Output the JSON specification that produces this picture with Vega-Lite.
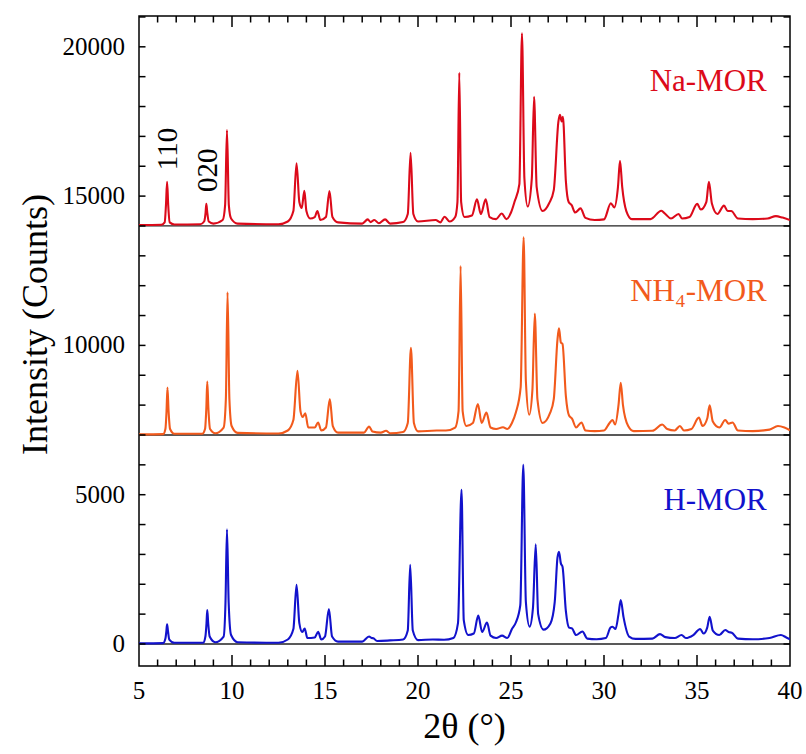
{
  "$schema": "https://vega.github.io/schema/vega-lite/v6.json",
  "width": 651,
  "height": 650,
  "autosize": "none",
  "padding": {"left": 139, "top": 16, "right": 16, "bottom": 88},
  "config": {
    "view": {"stroke": "black", "strokeWidth": 1.5},
    "font": "Liberation Serif"
  },
  "datasets": {
    "xrd": [
      {"sample":"Na","angle":5.0,"counts":14030},{"sample":"Na","angle":6.2,"counts":14040},{"sample":"Na","angle":6.38,"counts":14120},{"sample":"Na","angle":6.45,"counts":14700},{"sample":"Na","angle":6.51,"counts":15480},{"sample":"Na","angle":6.57,"counts":14700},{"sample":"Na","angle":6.65,"counts":14120},{"sample":"Na","angle":6.9,"counts":14050},{"sample":"Na","angle":8.3,"counts":14060},{"sample":"Na","angle":8.5,"counts":14150},{"sample":"Na","angle":8.58,"counts":14450},{"sample":"Na","angle":8.62,"counts":14740},{"sample":"Na","angle":8.67,"counts":14450},{"sample":"Na","angle":8.75,"counts":14150},{"sample":"Na","angle":9.0,"counts":14080},{"sample":"Na","angle":9.5,"counts":14200},{"sample":"Na","angle":9.63,"counts":14700},{"sample":"Na","angle":9.73,"counts":17210},{"sample":"Na","angle":9.83,"counts":14700},{"sample":"Na","angle":9.95,"counts":14250},{"sample":"Na","angle":10.3,"counts":14080},{"sample":"Na","angle":12.5,"counts":14060},{"sample":"Na","angle":13.0,"counts":14150},{"sample":"Na","angle":13.3,"counts":14500},{"sample":"Na","angle":13.47,"counts":16100},{"sample":"Na","angle":13.62,"counts":14800},{"sample":"Na","angle":13.75,"counts":14600},{"sample":"Na","angle":13.89,"counts":15180},{"sample":"Na","angle":14.0,"counts":14500},{"sample":"Na","angle":14.2,"counts":14250},{"sample":"Na","angle":14.45,"counts":14300},{"sample":"Na","angle":14.59,"counts":14500},{"sample":"Na","angle":14.75,"counts":14200},{"sample":"Na","angle":15.05,"counts":14300},{"sample":"Na","angle":15.24,"counts":15170},{"sample":"Na","angle":15.4,"counts":14300},{"sample":"Na","angle":15.7,"counts":14120},{"sample":"Na","angle":17.0,"counts":14080},{"sample":"Na","angle":17.3,"counts":14220},{"sample":"Na","angle":17.45,"counts":14130},{"sample":"Na","angle":17.65,"counts":14200},{"sample":"Na","angle":17.9,"counts":14090},{"sample":"Na","angle":18.23,"counts":14220},{"sample":"Na","angle":18.5,"counts":14080},{"sample":"Na","angle":19.2,"counts":14130},{"sample":"Na","angle":19.45,"counts":14400},{"sample":"Na","angle":19.6,"counts":16450},{"sample":"Na","angle":19.75,"counts":14400},{"sample":"Na","angle":20.0,"counts":14150},{"sample":"Na","angle":20.95,"counts":14200},{"sample":"Na","angle":21.2,"counts":14120},{"sample":"Na","angle":21.43,"counts":14310},{"sample":"Na","angle":21.7,"counts":14150},{"sample":"Na","angle":22.0,"counts":14300},{"sample":"Na","angle":22.12,"counts":14800},{"sample":"Na","angle":22.22,"counts":19130},{"sample":"Na","angle":22.32,"counts":14800},{"sample":"Na","angle":22.5,"counts":14300},{"sample":"Na","angle":22.9,"counts":14350},{"sample":"Na","angle":23.17,"counts":14890},{"sample":"Na","angle":23.38,"counts":14400},{"sample":"Na","angle":23.64,"counts":14890},{"sample":"Na","angle":23.85,"counts":14300},{"sample":"Na","angle":24.2,"counts":14230},{"sample":"Na","angle":24.5,"counts":14420},{"sample":"Na","angle":24.75,"counts":14230},{"sample":"Na","angle":25.0,"counts":14450},{"sample":"Na","angle":25.19,"counts":14810},{"sample":"Na","angle":25.45,"counts":15400},{"sample":"Na","angle":25.59,"counts":20450},{"sample":"Na","angle":25.72,"counts":15600},{"sample":"Na","angle":25.9,"counts":14650},{"sample":"Na","angle":26.12,"counts":15600},{"sample":"Na","angle":26.24,"counts":18330},{"sample":"Na","angle":26.38,"counts":15300},{"sample":"Na","angle":26.7,"counts":14500},{"sample":"Na","angle":27.05,"counts":14760},{"sample":"Na","angle":27.3,"counts":15200},{"sample":"Na","angle":27.55,"counts":17500},{"sample":"Na","angle":27.63,"counts":17720},{"sample":"Na","angle":27.72,"counts":17500},{"sample":"Na","angle":27.79,"counts":17660},{"sample":"Na","angle":27.95,"counts":15500},{"sample":"Na","angle":28.1,"counts":14800},{"sample":"Na","angle":28.26,"counts":14700},{"sample":"Na","angle":28.45,"counts":14450},{"sample":"Na","angle":28.74,"counts":14590},{"sample":"Na","angle":29.0,"counts":14270},{"sample":"Na","angle":29.5,"counts":14200},{"sample":"Na","angle":30.0,"counts":14220},{"sample":"Na","angle":30.37,"counts":14760},{"sample":"Na","angle":30.55,"counts":14620},{"sample":"Na","angle":30.75,"counts":15300},{"sample":"Na","angle":30.86,"counts":16180},{"sample":"Na","angle":30.98,"counts":15300},{"sample":"Na","angle":31.2,"counts":14500},{"sample":"Na","angle":31.5,"counts":14230},{"sample":"Na","angle":32.5,"counts":14230},{"sample":"Na","angle":33.08,"counts":14510},{"sample":"Na","angle":33.3,"counts":14400},{"sample":"Na","angle":33.6,"counts":14250},{"sample":"Na","angle":34.01,"counts":14400},{"sample":"Na","angle":34.2,"counts":14250},{"sample":"Na","angle":34.6,"counts":14300},{"sample":"Na","angle":35.01,"counts":14740},{"sample":"Na","angle":35.2,"counts":14550},{"sample":"Na","angle":35.5,"counts":14800},{"sample":"Na","angle":35.64,"counts":15480},{"sample":"Na","angle":35.8,"counts":14750},{"sample":"Na","angle":36.1,"counts":14400},{"sample":"Na","angle":36.45,"counts":14680},{"sample":"Na","angle":36.65,"counts":14500},{"sample":"Na","angle":36.84,"counts":14500},{"sample":"Na","angle":37.2,"counts":14250},{"sample":"Na","angle":38.0,"counts":14230},{"sample":"Na","angle":38.8,"counts":14250},{"sample":"Na","angle":39.24,"counts":14330},{"sample":"Na","angle":39.6,"counts":14280},{"sample":"Na","angle":40.0,"counts":14200},

      {"sample":"NH4","angle":5.0,"counts":7020},{"sample":"NH4","angle":6.3,"counts":7030},{"sample":"NH4","angle":6.42,"counts":7200},{"sample":"NH4","angle":6.48,"counts":7800},{"sample":"NH4","angle":6.53,"counts":8590},{"sample":"NH4","angle":6.59,"counts":7800},{"sample":"NH4","angle":6.67,"counts":7200},{"sample":"NH4","angle":6.9,"counts":7040},{"sample":"NH4","angle":8.4,"counts":7040},{"sample":"NH4","angle":8.55,"counts":7200},{"sample":"NH4","angle":8.62,"counts":7900},{"sample":"NH4","angle":8.67,"counts":8790},{"sample":"NH4","angle":8.73,"counts":7900},{"sample":"NH4","angle":8.82,"counts":7200},{"sample":"NH4","angle":9.1,"counts":7060},{"sample":"NH4","angle":9.55,"counts":7250},{"sample":"NH4","angle":9.67,"counts":8200},{"sample":"NH4","angle":9.76,"counts":11780},{"sample":"NH4","angle":9.86,"counts":8200},{"sample":"NH4","angle":9.98,"counts":7300},{"sample":"NH4","angle":10.3,"counts":7070},{"sample":"NH4","angle":12.5,"counts":7050},{"sample":"NH4","angle":13.0,"counts":7150},{"sample":"NH4","angle":13.3,"counts":7500},{"sample":"NH4","angle":13.52,"counts":9150},{"sample":"NH4","angle":13.68,"counts":7800},{"sample":"NH4","angle":13.8,"counts":7600},{"sample":"NH4","angle":13.94,"counts":7730},{"sample":"NH4","angle":14.1,"counts":7250},{"sample":"NH4","angle":14.45,"counts":7250},{"sample":"NH4","angle":14.63,"counts":7420},{"sample":"NH4","angle":14.8,"counts":7150},{"sample":"NH4","angle":15.05,"counts":7250},{"sample":"NH4","angle":15.26,"counts":8200},{"sample":"NH4","angle":15.42,"counts":7300},{"sample":"NH4","angle":15.7,"counts":7080},{"sample":"NH4","angle":17.1,"counts":7080},{"sample":"NH4","angle":17.37,"counts":7280},{"sample":"NH4","angle":17.55,"counts":7120},{"sample":"NH4","angle":18.0,"counts":7080},{"sample":"NH4","angle":18.28,"counts":7140},{"sample":"NH4","angle":18.5,"counts":7060},{"sample":"NH4","angle":19.2,"counts":7100},{"sample":"NH4","angle":19.45,"counts":7400},{"sample":"NH4","angle":19.62,"counts":9920},{"sample":"NH4","angle":19.78,"counts":7400},{"sample":"NH4","angle":20.0,"counts":7120},{"sample":"NH4","angle":21.0,"counts":7150},{"sample":"NH4","angle":21.5,"counts":7150},{"sample":"NH4","angle":22.0,"counts":7250},{"sample":"NH4","angle":22.18,"counts":7800},{"sample":"NH4","angle":22.29,"counts":12660},{"sample":"NH4","angle":22.4,"counts":7800},{"sample":"NH4","angle":22.6,"counts":7300},{"sample":"NH4","angle":22.95,"counts":7400},{"sample":"NH4","angle":23.22,"counts":8040},{"sample":"NH4","angle":23.42,"counts":7400},{"sample":"NH4","angle":23.68,"counts":7750},{"sample":"NH4","angle":23.9,"counts":7250},{"sample":"NH4","angle":24.2,"counts":7200},{"sample":"NH4","angle":24.57,"counts":7260},{"sample":"NH4","angle":24.8,"counts":7200},{"sample":"NH4","angle":25.05,"counts":7400},{"sample":"NH4","angle":25.26,"counts":7750},{"sample":"NH4","angle":25.52,"counts":8600},{"sample":"NH4","angle":25.68,"counts":13620},{"sample":"NH4","angle":25.8,"counts":8800},{"sample":"NH4","angle":25.98,"counts":7680},{"sample":"NH4","angle":26.15,"counts":8500},{"sample":"NH4","angle":26.28,"counts":11070},{"sample":"NH4","angle":26.42,"counts":8200},{"sample":"NH4","angle":26.7,"counts":7400},{"sample":"NH4","angle":27.09,"counts":7720},{"sample":"NH4","angle":27.3,"counts":8200},{"sample":"NH4","angle":27.5,"counts":10200},{"sample":"NH4","angle":27.58,"counts":10570},{"sample":"NH4","angle":27.68,"counts":10100},{"sample":"NH4","angle":27.77,"counts":10050},{"sample":"NH4","angle":27.95,"counts":8300},{"sample":"NH4","angle":28.12,"counts":7650},{"sample":"NH4","angle":28.28,"counts":7550},{"sample":"NH4","angle":28.5,"counts":7250},{"sample":"NH4","angle":28.79,"counts":7420},{"sample":"NH4","angle":29.0,"counts":7150},{"sample":"NH4","angle":29.5,"counts":7130},{"sample":"NH4","angle":30.0,"counts":7150},{"sample":"NH4","angle":30.3,"counts":7400},{"sample":"NH4","angle":30.46,"counts":7500},{"sample":"NH4","angle":30.6,"counts":7350},{"sample":"NH4","angle":30.78,"counts":8000},{"sample":"NH4","angle":30.9,"counts":8750},{"sample":"NH4","angle":31.02,"counts":8000},{"sample":"NH4","angle":31.3,"counts":7300},{"sample":"NH4","angle":31.6,"counts":7130},{"sample":"NH4","angle":32.6,"counts":7140},{"sample":"NH4","angle":33.13,"counts":7350},{"sample":"NH4","angle":33.4,"counts":7200},{"sample":"NH4","angle":33.8,"counts":7150},{"sample":"NH4","angle":34.08,"counts":7300},{"sample":"NH4","angle":34.3,"counts":7150},{"sample":"NH4","angle":34.7,"counts":7200},{"sample":"NH4","angle":35.1,"counts":7580},{"sample":"NH4","angle":35.3,"counts":7300},{"sample":"NH4","angle":35.55,"counts":7550},{"sample":"NH4","angle":35.68,"counts":7990},{"sample":"NH4","angle":35.85,"counts":7450},{"sample":"NH4","angle":36.2,"counts":7250},{"sample":"NH4","angle":36.52,"counts":7500},{"sample":"NH4","angle":36.7,"counts":7380},{"sample":"NH4","angle":36.91,"counts":7420},{"sample":"NH4","angle":37.2,"counts":7150},{"sample":"NH4","angle":38.0,"counts":7130},{"sample":"NH4","angle":38.9,"counts":7180},{"sample":"NH4","angle":39.35,"counts":7300},{"sample":"NH4","angle":39.7,"counts":7250},{"sample":"NH4","angle":40.0,"counts":7160},

      {"sample":"H","angle":5.0,"counts":20},{"sample":"H","angle":6.3,"counts":30},{"sample":"H","angle":6.42,"counts":180},{"sample":"H","angle":6.47,"counts":420},{"sample":"H","angle":6.51,"counts":660},{"sample":"H","angle":6.56,"counts":420},{"sample":"H","angle":6.63,"counts":150},{"sample":"H","angle":6.9,"counts":40},{"sample":"H","angle":8.45,"counts":40},{"sample":"H","angle":8.57,"counts":250},{"sample":"H","angle":8.63,"counts":700},{"sample":"H","angle":8.67,"counts":1140},{"sample":"H","angle":8.72,"counts":700},{"sample":"H","angle":8.8,"counts":250},{"sample":"H","angle":9.1,"counts":60},{"sample":"H","angle":9.55,"counts":250},{"sample":"H","angle":9.65,"counts":1400},{"sample":"H","angle":9.73,"counts":3840},{"sample":"H","angle":9.82,"counts":1400},{"sample":"H","angle":9.95,"counts":300},{"sample":"H","angle":10.3,"counts":60},{"sample":"H","angle":12.5,"counts":40},{"sample":"H","angle":13.0,"counts":150},{"sample":"H","angle":13.3,"counts":500},{"sample":"H","angle":13.47,"counts":1980},{"sample":"H","angle":13.62,"counts":700},{"sample":"H","angle":13.78,"counts":400},{"sample":"H","angle":13.91,"counts":520},{"sample":"H","angle":14.05,"counts":200},{"sample":"H","angle":14.45,"counts":220},{"sample":"H","angle":14.63,"counts":410},{"sample":"H","angle":14.8,"counts":150},{"sample":"H","angle":15.0,"counts":250},{"sample":"H","angle":15.21,"counts":1170},{"sample":"H","angle":15.38,"counts":250},{"sample":"H","angle":15.7,"counts":80},{"sample":"H","angle":17.0,"counts":80},{"sample":"H","angle":17.37,"counts":250},{"sample":"H","angle":17.5,"counts":200},{"sample":"H","angle":17.6,"counts":190},{"sample":"H","angle":17.8,"counts":100},{"sample":"H","angle":18.5,"counts":120},{"sample":"H","angle":19.2,"counts":150},{"sample":"H","angle":19.45,"counts":450},{"sample":"H","angle":19.58,"counts":2650},{"sample":"H","angle":19.72,"counts":450},{"sample":"H","angle":20.0,"counts":130},{"sample":"H","angle":20.8,"counts":150},{"sample":"H","angle":21.4,"counts":140},{"sample":"H","angle":21.9,"counts":200},{"sample":"H","angle":22.15,"counts":700},{"sample":"H","angle":22.34,"counts":5160},{"sample":"H","angle":22.46,"counts":800},{"sample":"H","angle":22.7,"counts":300},{"sample":"H","angle":23.0,"counts":350},{"sample":"H","angle":23.24,"counts":950},{"sample":"H","angle":23.45,"counts":400},{"sample":"H","angle":23.71,"counts":720},{"sample":"H","angle":23.9,"counts":280},{"sample":"H","angle":24.2,"counts":200},{"sample":"H","angle":24.52,"counts":280},{"sample":"H","angle":24.8,"counts":200},{"sample":"H","angle":25.05,"counts":500},{"sample":"H","angle":25.26,"counts":720},{"sample":"H","angle":25.5,"counts":1300},{"sample":"H","angle":25.66,"counts":6000},{"sample":"H","angle":25.8,"counts":1400},{"sample":"H","angle":26.0,"counts":580},{"sample":"H","angle":26.18,"counts":1200},{"sample":"H","angle":26.33,"counts":3340},{"sample":"H","angle":26.46,"counts":1000},{"sample":"H","angle":26.75,"counts":480},{"sample":"H","angle":27.12,"counts":690},{"sample":"H","angle":27.35,"counts":1400},{"sample":"H","angle":27.5,"counts":2900},{"sample":"H","angle":27.58,"counts":3090},{"sample":"H","angle":27.68,"counts":2700},{"sample":"H","angle":27.77,"counts":2590},{"sample":"H","angle":27.95,"counts":1100},{"sample":"H","angle":28.12,"counts":550},{"sample":"H","angle":28.28,"counts":520},{"sample":"H","angle":28.5,"counts":300},{"sample":"H","angle":28.84,"counts":420},{"sample":"H","angle":29.1,"counts":180},{"sample":"H","angle":29.6,"counts":160},{"sample":"H","angle":30.1,"counts":200},{"sample":"H","angle":30.35,"counts":550},{"sample":"H","angle":30.46,"counts":580},{"sample":"H","angle":30.62,"counts":500},{"sample":"H","angle":30.78,"counts":1000},{"sample":"H","angle":30.9,"counts":1470},{"sample":"H","angle":31.05,"counts":900},{"sample":"H","angle":31.35,"counts":250},{"sample":"H","angle":31.7,"counts":170},{"sample":"H","angle":32.6,"counts":180},{"sample":"H","angle":33.01,"counts":330},{"sample":"H","angle":33.3,"counts":230},{"sample":"H","angle":33.8,"counts":200},{"sample":"H","angle":34.17,"counts":300},{"sample":"H","angle":34.4,"counts":200},{"sample":"H","angle":34.8,"counts":300},{"sample":"H","angle":35.17,"counts":500},{"sample":"H","angle":35.35,"counts":350},{"sample":"H","angle":35.55,"counts":550},{"sample":"H","angle":35.68,"counts":910},{"sample":"H","angle":35.85,"counts":450},{"sample":"H","angle":36.2,"counts":300},{"sample":"H","angle":36.52,"counts":470},{"sample":"H","angle":36.7,"counts":400},{"sample":"H","angle":36.87,"counts":380},{"sample":"H","angle":37.2,"counts":180},{"sample":"H","angle":38.0,"counts":160},{"sample":"H","angle":38.9,"counts":200},{"sample":"H","angle":39.51,"counts":300},{"sample":"H","angle":39.8,"counts":220},{"sample":"H","angle":40.0,"counts":160}
    ],
    "baselines": [{"counts": 0}, {"counts": 7000}, {"counts": 14000}],
    "labels": [
      {"sample": "Na", "angle": 38.75, "counts": 18830, "text": "Na-MOR"},
      {"sample": "NH4", "angle": 38.75, "counts": 11790, "text": "NH₄-MOR"},
      {"sample": "H", "angle": 38.75, "counts": 4800, "text": "H-MOR"}
    ],
    "hkl": [
      {"angle": 6.56, "counts": 16580, "text": "110"},
      {"angle": 8.73, "counts": 15870, "text": "020"}
    ],
    "xticks": [
      {"angle":6,"kind":"minor"},{"angle":7,"kind":"minor"},{"angle":8,"kind":"minor"},{"angle":9,"kind":"minor"},{"angle":10,"kind":"major"},
      {"angle":11,"kind":"minor"},{"angle":12,"kind":"minor"},{"angle":13,"kind":"minor"},{"angle":14,"kind":"minor"},{"angle":15,"kind":"major"},
      {"angle":16,"kind":"minor"},{"angle":17,"kind":"minor"},{"angle":18,"kind":"minor"},{"angle":19,"kind":"minor"},{"angle":20,"kind":"major"},
      {"angle":21,"kind":"minor"},{"angle":22,"kind":"minor"},{"angle":23,"kind":"minor"},{"angle":24,"kind":"minor"},{"angle":25,"kind":"major"},
      {"angle":26,"kind":"minor"},{"angle":27,"kind":"minor"},{"angle":28,"kind":"minor"},{"angle":29,"kind":"minor"},{"angle":30,"kind":"major"},
      {"angle":31,"kind":"minor"},{"angle":32,"kind":"minor"},{"angle":33,"kind":"minor"},{"angle":34,"kind":"minor"},{"angle":35,"kind":"major"},
      {"angle":36,"kind":"minor"},{"angle":37,"kind":"minor"},{"angle":38,"kind":"minor"},{"angle":39,"kind":"minor"}
    ],
    "yticks": [
      {"counts":0},{"counts":1000},{"counts":2000},{"counts":3000},{"counts":4000},{"counts":5000},{"counts":6000},{"counts":7000},{"counts":8000},{"counts":9000},{"counts":10000},
      {"counts":11000},{"counts":12000},{"counts":13000},{"counts":14000},{"counts":15000},{"counts":16000},{"counts":17000},{"counts":18000},{"counts":19000},{"counts":20000},{"counts":21000}
    ],
    "xlabels": [{"angle":5},{"angle":10},{"angle":15},{"angle":20},{"angle":25},{"angle":30},{"angle":35},{"angle":40}],
    "ylabels": [{"counts":0},{"counts":5000},{"counts":10000},{"counts":15000},{"counts":20000}]
  },
  "layer": [
    {
      "data": {"name": "baselines"},
      "mark": {"type": "rule", "color": "#222222", "strokeWidth": 1.3},
      "encoding": {
        "y": {"field": "counts", "type": "quantitative", "scale": {"domain": [-737, 21032], "nice": false, "zero": false}, "axis": null}
      }
    },
    {
      "data": {"name": "xrd"},
      "mark": {"type": "line", "strokeWidth": 2.1, "clip": true, "interpolate": "monotone"},
      "encoding": {
        "x": {"field": "angle", "type": "quantitative", "scale": {"domain": [5, 40], "nice": false, "zero": false}, "axis": null},
        "y": {"field": "counts", "type": "quantitative", "scale": {"domain": [-737, 21032], "nice": false, "zero": false}, "axis": null},
        "color": {
          "field": "sample", "type": "nominal",
          "scale": {"domain": ["Na", "NH4", "H"], "range": ["#dc0a1a", "#f25a1c", "#1212cc"]},
          "legend": null
        }
      }
    },
    {
      "data": {"name": "labels"},
      "mark": {"type": "text", "align": "right", "baseline": "middle", "fontSize": 31, "font": "Liberation Serif"},
      "encoding": {
        "x": {"field": "angle", "type": "quantitative", "axis": null},
        "y": {"field": "counts", "type": "quantitative", "axis": null},
        "text": {"field": "text"},
        "color": {"field": "sample", "type": "nominal", "legend": null}
      }
    },
    {
      "data": {"name": "hkl"},
      "mark": {"type": "text", "align": "center", "baseline": "middle", "angle": 270, "fontSize": 29, "font": "Liberation Serif", "color": "black"},
      "encoding": {
        "x": {"field": "angle", "type": "quantitative", "axis": null},
        "y": {"field": "counts", "type": "quantitative", "axis": null},
        "text": {"field": "text"}
      }
    },
    {
      "data": {"name": "xticks"},
      "mark": {"type": "tick", "orient": "vertical", "color": "black", "opacity": 1, "thickness": 1.5, "clip": true},
      "encoding": {
        "x": {"field": "angle", "type": "quantitative", "axis": null},
        "y": {"datum": -737, "type": "quantitative", "axis": null},
        "size": {"field": "kind", "type": "ordinal", "scale": {"domain": ["major", "minor"], "range": [22, 13]}, "legend": null}
      }
    },
    {
      "data": {"name": "xticks"},
      "mark": {"type": "tick", "orient": "vertical", "color": "black", "opacity": 1, "thickness": 1.5, "clip": true},
      "encoding": {
        "x": {"field": "angle", "type": "quantitative", "axis": null},
        "y": {"datum": 21032, "type": "quantitative", "axis": null},
        "size": {"field": "kind", "type": "ordinal", "legend": null}
      }
    },
    {
      "data": {"name": "yticks"},
      "mark": {"type": "tick", "orient": "horizontal", "color": "black", "opacity": 1, "thickness": 1.5, "size": 13, "clip": true},
      "encoding": {
        "x": {"datum": 5, "type": "quantitative", "axis": null},
        "y": {"field": "counts", "type": "quantitative", "axis": null}
      }
    },
    {
      "data": {"name": "yticks"},
      "mark": {"type": "tick", "orient": "horizontal", "color": "black", "opacity": 1, "thickness": 1.5, "size": 13, "clip": true},
      "encoding": {
        "x": {"datum": 40, "type": "quantitative", "axis": null},
        "y": {"field": "counts", "type": "quantitative", "axis": null}
      }
    },
    {
      "data": {"name": "xlabels"},
      "mark": {"type": "text", "align": "center", "baseline": "top", "dy": 13, "fontSize": 25, "font": "Liberation Serif", "color": "black"},
      "encoding": {
        "x": {"field": "angle", "type": "quantitative", "axis": null},
        "y": {"datum": -737, "type": "quantitative", "axis": null},
        "text": {"field": "angle", "type": "quantitative", "format": "d"}
      }
    },
    {
      "data": {"name": "ylabels"},
      "mark": {"type": "text", "align": "right", "baseline": "middle", "dx": -14, "fontSize": 25, "font": "Liberation Serif", "color": "black"},
      "encoding": {
        "x": {"datum": 5, "type": "quantitative", "axis": null},
        "y": {"field": "counts", "type": "quantitative", "axis": null},
        "text": {"field": "counts", "type": "quantitative", "format": "d"}
      }
    },
    {
      "data": {"values": [{}]},
      "mark": {"type": "text", "align": "center", "baseline": "middle", "fontSize": 36, "font": "Liberation Serif", "color": "black"},
      "encoding": {
        "x": {"datum": 22.5, "type": "quantitative", "axis": null},
        "y": {"datum": -2780, "type": "quantitative", "axis": null},
        "text": {"value": "2θ  (°)"}
      }
    },
    {
      "data": {"values": [{}]},
      "mark": {"type": "text", "align": "center", "baseline": "middle", "angle": 270, "fontSize": 36, "font": "Liberation Serif", "color": "black"},
      "encoding": {
        "x": {"datum": -0.55, "type": "quantitative", "axis": null},
        "y": {"datum": 10700, "type": "quantitative", "axis": null},
        "text": {"value": "Intensity  (Counts)"}
      }
    }
  ]
}
